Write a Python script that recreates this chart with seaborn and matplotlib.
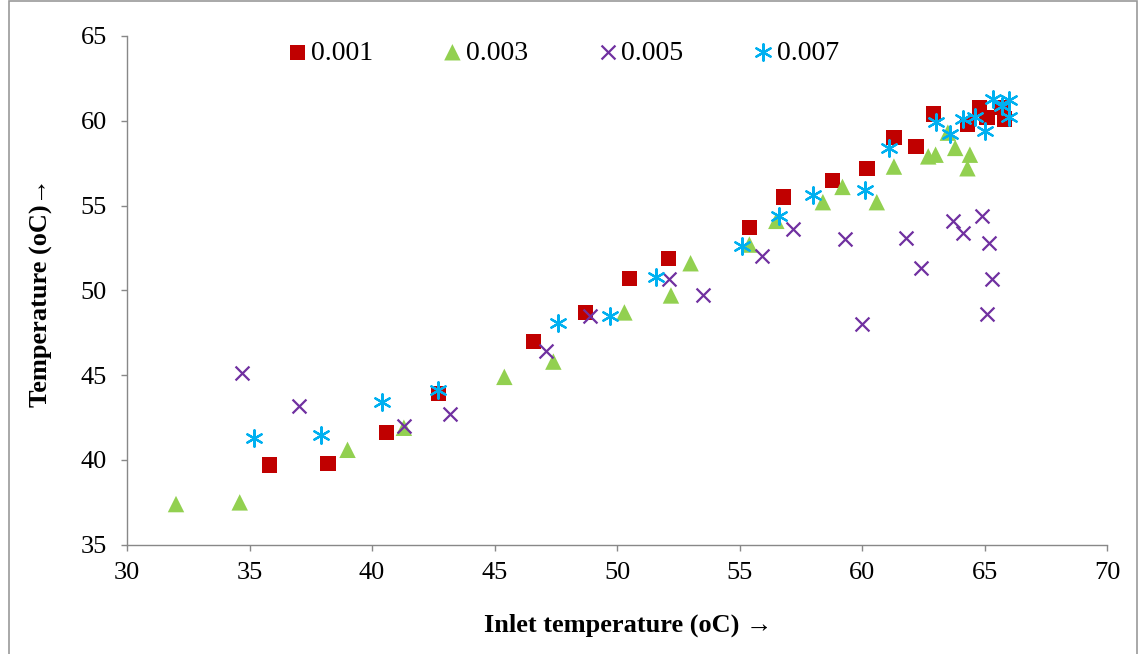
import matplotlib
matplotlib.use("Agg")
import matplotlib.pyplot as plt
import seaborn as sns
import pandas as pd
from matplotlib.patches import Rectangle

# Outlet temperature vs inlet temperature for four flow rates
x_0001 = [35.8, 38.2, 40.6, 42.7, 46.6, 48.7, 50.5, 52.1, 55.4, 56.8, 58.8, 60.2,
          61.3, 62.2, 62.9, 64.3, 64.8, 65.1, 65.7, 65.8]
y_0001 = [39.7, 39.8, 41.6, 43.9, 47.0, 48.7, 50.7, 51.9, 53.7, 55.5, 56.5, 57.2,
          59.0, 58.5, 60.4, 59.8, 60.8, 60.2, 60.8, 60.1]

x_0003 = [32.0, 34.6, 39.0, 41.3, 45.4, 47.4, 50.3, 52.2, 53.0, 55.4, 56.5, 58.4,
          59.2, 60.6, 61.3, 62.7, 63.0, 63.5, 63.8, 64.3, 64.4]
y_0003 = [37.4, 37.5, 40.6, 41.9, 44.9, 45.8, 48.7, 49.7, 51.6, 52.7, 54.1, 55.2,
          56.1, 55.2, 57.3, 57.9, 58.0, 59.3, 58.4, 57.2, 58.0]

x_0005 = [34.7, 37.0, 41.3, 43.2, 47.1, 48.9, 52.1, 53.5, 55.9, 57.2, 59.3, 60.0,
          61.8, 62.4, 63.7, 64.1, 64.9, 65.2, 65.3, 65.1]
y_0005 = [45.1, 43.2, 42.0, 42.7, 46.4, 48.5, 50.7, 49.7, 52.0, 53.6, 53.0, 48.0,
          53.1, 51.3, 54.1, 53.4, 54.4, 52.8, 50.7, 48.6]

x_0007 = [35.2, 37.9, 40.4, 42.7, 47.6, 49.7, 51.6, 55.1, 56.6, 58.0, 60.1, 61.1,
          63.0, 63.6, 64.1, 64.6, 65.0, 65.35, 65.7, 66.0, 66.0]
y_0007 = [41.3, 41.5, 43.4, 44.1, 48.1, 48.5, 50.8, 52.6, 54.4, 55.6, 55.9, 58.4,
          59.9, 59.2, 60.1, 60.2, 59.4, 61.3, 60.9, 61.2, 60.2]

labels = ["0.001", "0.003", "0.005", "0.007"]
x_ticks = [30, 35, 40, 45, 50, 55, 60, 65, 70]
y_ticks = [35, 40, 45, 50, 55, 60, 65]

series = [
    (labels[0], x_0001, y_0001, "#C00000", "s", 120, 0),
    (labels[1], x_0003, y_0003, "#92D050", "^", 140, 0),
    (labels[2], x_0005, y_0005, "#7030A0", "x", 100, 1.6),
    (labels[3], x_0007, y_0007, "#00B0F0", (6, 2, 0), 140, 1.6),
]

sns.set_style("white")
plt.rcParams["font.family"] = ["Liberation Serif", "DejaVu Serif"]
plt.rcParams["text.color"] = "black"
plt.rcParams["axes.labelcolor"] = "black"
plt.rcParams["xtick.color"] = "black"
plt.rcParams["ytick.color"] = "black"

fig, ax = plt.subplots(figsize=(11.39, 6.54), dpi=100)
fig.subplots_adjust(left=0.1115, right=0.972, top=0.945, bottom=0.167)

for name, xs, ys, color, marker, size, lw in series:
    df = pd.DataFrame({"x": xs, "y": ys})
    kw = dict(data=df, x="x", y="y", ax=ax, label=name, marker=marker, s=size,
              color=color, linewidth=lw, zorder=3)
    if lw == 0:
        kw["edgecolor"] = "none"
    sns.scatterplot(**kw)

ax.set_xlim(30, 70)
ax.set_ylim(35, 65)
ax.set_xticks(x_ticks)
ax.set_yticks(y_ticks)
ax.tick_params(axis="both", which="major", labelsize=19, direction="out",
               length=4.5, width=1, color="#888888", labelcolor="black",
               bottom=True, left=True)
ax.tick_params(axis="x", pad=8)
ax.tick_params(axis="y", pad=10)
for side in ["top", "right"]:
    ax.spines[side].set_visible(False)
for side in ["left", "bottom"]:
    ax.spines[side].set_color("#888888")
    ax.spines[side].set_linewidth(1)

ax.set_xlabel("Inlet temperature (oC) →", fontsize=19, fontweight="bold")
ax.set_ylabel("Temperature (oC)→", fontsize=19, fontweight="bold")
ax.xaxis.set_label_coords(0.511, -0.135)
ax.yaxis.set_label_coords(-0.075, 0.495)

leg = ax.legend(loc="upper left", bbox_to_anchor=(0.134, 1.041), ncol=4, frameon=False,
                fontsize=20, markerscale=1.0, handletextpad=0.0, columnspacing=2.35,
                handlelength=1.0)

# thin border around the whole figure
fig.patches.append(Rectangle((9 / 1139, -0.01), 1 - 11 / 1139, 1.008, transform=fig.transFigure,
                             fill=False, edgecolor="#999999", linewidth=1.2))

fig.savefig("out.png", dpi=100)
